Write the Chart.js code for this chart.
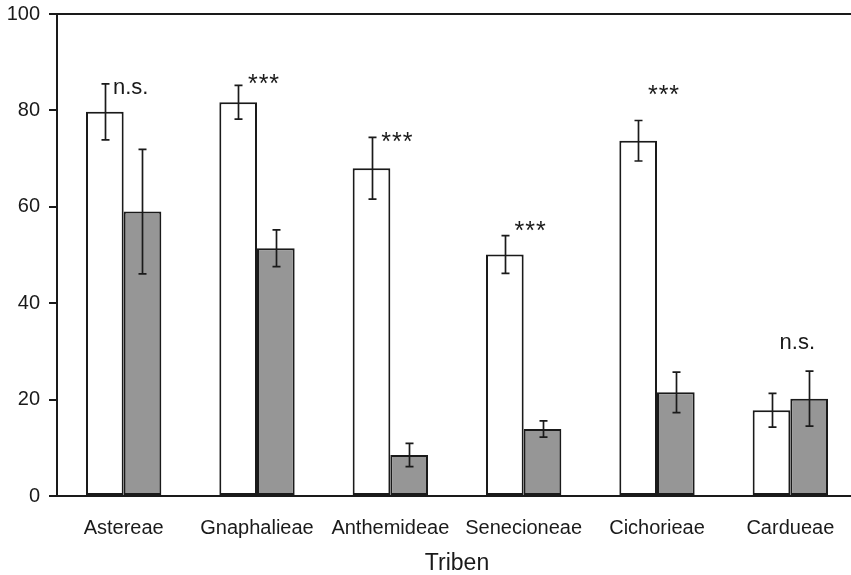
<!DOCTYPE html>
<html>
<head>
<meta charset="utf-8">
<script src="https://cdn.jsdelivr.net/npm/chart.js@4.4.1/dist/chart.umd.min.js"></script>
<style>
  html, body { margin: 0; padding: 0; background: #ffffff; overflow: hidden; width: 851px; height: 575px; }
  #wrap { position: absolute; left: 0; top: 0; width: 880px; height: 575px; }
</style>
</head>
<body>
<div id="wrap"><canvas id="c" width="880" height="575"></canvas></div>
<script>
// ---- data ----
const categories = ['Astereae', 'Gnaphalieae', 'Anthemideae', 'Senecioneae', 'Cichorieae', 'Cardueae'];
const whiteValues = [79.7, 81.7, 68.0, 50.1, 73.7, 17.8];
const whiteErrors = [5.8, 3.5, 6.4, 3.9, 4.2, 3.5];
const grayValues  = [59.0, 51.4, 8.5, 13.9, 21.5, 20.2];
const grayErrors  = [12.9, 3.8, 2.4, 1.7, 4.2, 5.7];
const sigLabels   = ['n.s.', '***', '***', '***', '***', 'n.s.'];
const sigLevels   = [83.5, 83.9, 71.8, 53.4, 81.5, 30.6];
const yTicks      = [0, 20, 40, 60, 80, 100];
const xTitle      = 'Triben';

const FONT = "'Liberation Sans', Arial, Helvetica, sans-serif";
const INK = '#1a1a1a';

const errorBarPlugin = {
  id: 'errorBars',
  afterDatasetsDraw(chart) {
    const ctx = chart.ctx;
    const y = chart.scales.y;
    const errs = [whiteErrors, grayErrors];
    ctx.save();
    ctx.strokeStyle = INK;
    ctx.lineWidth = 1.7;
    chart.data.datasets.forEach((ds, di) => {
      const meta = chart.getDatasetMeta(di);
      meta.data.forEach((bar, i) => {
        const v = ds.data[i], e = errs[di][i];
        const x = Math.round(bar.x) + 0.5;
        const yt = y.getPixelForValue(v + e);
        const yb = y.getPixelForValue(v - e);
        const cap = 4;
        ctx.beginPath();
        ctx.moveTo(x, yt); ctx.lineTo(x, yb);
        ctx.moveTo(x - cap, yt); ctx.lineTo(x + cap, yt);
        ctx.moveTo(x - cap, yb); ctx.lineTo(x + cap, yb);
        ctx.stroke();
      });
    });
    ctx.restore();
  }
};

const sigPlugin = {
  id: 'sigLabels',
  afterDatasetsDraw(chart) {
    const ctx = chart.ctx;
    const xs = chart.scales.x, ys = chart.scales.y;
    ctx.save();
    ctx.fillStyle = INK;
    ctx.textAlign = 'center';
    ctx.textBaseline = 'alphabetic';
    sigLabels.forEach((lab, i) => {
      const cx = xs.getPixelForValue(i) + 7;
      const cy = ys.getPixelForValue(sigLevels[i]);
      if (lab === '***') {
        ctx.font = "25px " + FONT;
        ctx.letterSpacing = '1px';
      } else {
        ctx.font = "22px " + FONT;
        ctx.letterSpacing = '0px';
      }
      ctx.fillText(lab, cx, cy);
    });
    ctx.restore();
  }
};

new Chart(document.getElementById('c'), {
  type: 'bar',
  data: {
    labels: categories,
    datasets: [
      { data: whiteValues, backgroundColor: '#ffffff', borderColor: INK, borderWidth: 2, borderSkipped: false },
      { data: grayValues, backgroundColor: '#969696', borderColor: INK, borderWidth: 2, borderSkipped: false }
    ]
  },
  options: {
    responsive: false,
    animation: false,
    devicePixelRatio: 1,
    categoryPercentage: 0.565,
    barPercentage: 1.0,
    layout: { padding: { left: 0, right: 23, top: 14, bottom: 0 } },
    plugins: { legend: { display: false }, tooltip: { enabled: false } },
    scales: {
      x: {
        grid: { display: false },
        border: { display: true, color: INK, width: 2 },
        ticks: { color: INK, font: { family: FONT, size: 20 }, padding: 12, maxRotation: 0 },
        title: { display: true, text: xTitle, color: INK, font: { family: FONT, size: 23, lineHeight: 1.0 }, padding: { top: 0, bottom: 0 } },
        afterFit(s) { s.height = 79; s.paddingLeft = 0; s.paddingRight = 0; }
      },
      y: {
        min: 0, max: 100,
        afterBuildTicks(s) { s.ticks = yTicks.map(v => ({ value: v })); },
        grid: {
          drawOnChartArea: true,
          drawTicks: true,
          tickLength: 8,
          tickColor: INK,
          tickWidth: 2,
          lineWidth: 2,
          color: (c) => (c.tick && c.tick.value === 100) ? INK : 'rgba(0,0,0,0)'
        },
        border: { display: true, color: INK, width: 2 },
        ticks: { color: INK, font: { family: FONT, size: 20 }, padding: 9 },
        afterFit(s) { s.width = 57; s.paddingTop = 0; s.paddingBottom = 0; }
      }
    }
  },
  plugins: [errorBarPlugin, sigPlugin]
});
</script>
</body>
</html>
